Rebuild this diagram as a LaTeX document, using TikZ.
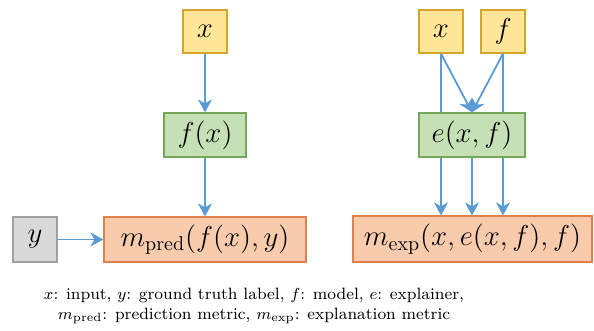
\documentclass[tikz,border=0pt]{standalone}
\usepackage{amsmath}
\usepackage{tikz}
\usetikzlibrary{arrows.meta, positioning, backgrounds}
\definecolor{inyellow}{HTML}{FFE699}
\definecolor{inyellowline}{HTML}{D6A62A}
\definecolor{fngreen}{HTML}{C5E0B4}
\definecolor{fngreenline}{HTML}{74A75A}
\definecolor{metorange}{HTML}{F8CBAD}
\definecolor{metorangeline}{HTML}{E0804A}
\definecolor{lblgray}{HTML}{D9D9D9}
\definecolor{lblgrayline}{HTML}{A0A0A0}
\definecolor{arrowblue}{HTML}{5B9BD5}

\begin{document}
\begin{tikzpicture}[x=0.5pt, y=-0.5pt]
    % Setup the styles for the boxes
        \tikzset{box style/.style={draw,
                                   line width=0.6pt,
                                   inner sep=0pt,
                                   font=\fontsize{14}{16}\selectfont},
                 input box/.style={box style, fill=inyellow, draw=inyellowline},
                 func box/.style={box style, fill=fngreen, draw=fngreenline},
                 metric box/.style={box style, fill=metorange, draw=metorangeline},
                 label box/.style={box style, fill=lblgray, draw=lblgrayline},
                 flow/.style={draw=arrowblue, line width=0.9pt,
                              -{Stealth[length=6.5pt, width=7pt, inset=2pt]}}}
        \useasboundingbox (0,0) rectangle (594,331);
        % Left: prediction
        \node[input box, minimum width=22pt, minimum height=21.5pt] at (205,31.5) (xl) {$x$};
        \node[func box, minimum width=41pt, minimum height=22pt] at (205,135) (fx) {$f(x)$};
        \node[metric box, minimum width=101pt, minimum height=22.5pt] at (205,239.5) (mpred) {$m_{\mathrm{pred}}(f(x),y)$};
        \node[label box, minimum width=22pt, minimum height=22.5pt] at (35,239.5) (yl) {$y$};
        % Right: explanation
        \node[input box, minimum width=22pt, minimum height=21.5pt] at (441,31.5) (xr) {$x$};
        \node[input box, minimum width=22pt, minimum height=21.5pt] at (503,31.5) (fr) {$f$};
        \node[func box, minimum width=53pt, minimum height=22pt] at (472,135) (ex) {$e(x,f)$};
        \node[metric box, minimum width=119.5pt, minimum height=23pt] at (472.5,239) (mexp) {$m_{\mathrm{exp}}(x,e(x,f),f)$};
        % Connect the boxes
        \draw[flow] (xl) -- (fx);
        \draw[flow] (fx) -- (mpred);
        \draw[flow] (yl) -- (mpred);
        \draw[flow] (xr.south) -- (ex.north);
        \draw[flow] (fr.south) -- (ex.north);
        \draw[flow] (ex.south) -- (ex.south |- mexp.north);
        \begin{scope}[on background layer]
            \draw[flow] (xr.south) -- (xr.south |- mexp.north);
            \draw[flow] (fr.south) -- (fr.south |- mexp.north);
        \end{scope}
        % Legend
        \node[align=center, font=\fontsize{8.2}{10}\selectfont] at (254,306) (legend)
            {$x$: input, $y$: ground truth label, $f$: model, $e$: explainer,\\
             $m_{\mathrm{pred}}$: prediction metric, $m_{\mathrm{exp}}$: explanation metric};
\end{tikzpicture}
\end{document}
